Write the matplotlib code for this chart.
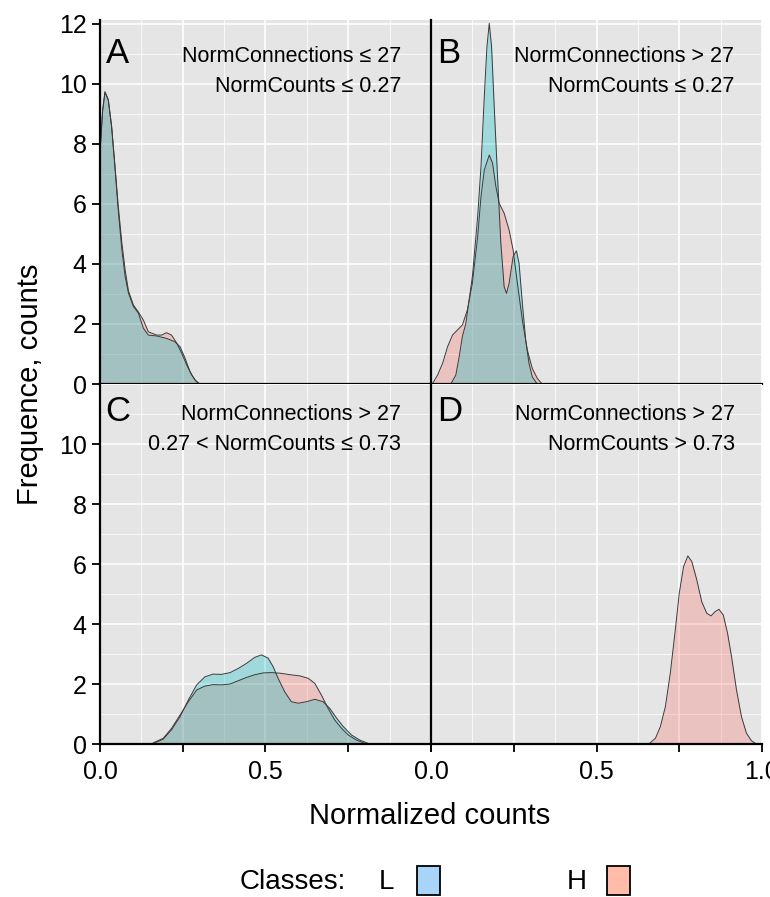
import matplotlib
matplotlib.use("Agg")
import matplotlib.pyplot as plt
from matplotlib.patches import Rectangle

# ---------------- data ----------------
# Panel A
a_L_x = [0.000, 0.008, 0.015, 0.025, 0.035, 0.045, 0.055, 0.066, 0.076, 0.086, 0.101, 0.116,
         0.131, 0.146, 0.171, 0.201, 0.226, 0.242, 0.257, 0.272, 0.287, 0.302]
a_L_y = [7.74, 9.13, 9.74, 9.47, 8.58, 7.24, 5.80, 4.47, 3.58, 3.03, 2.58, 2.36,
         1.86, 1.63, 1.60, 1.52, 1.41, 1.24, 0.86, 0.41, 0.13, 0.00]
a_H_x = [0.000, 0.008, 0.015, 0.025, 0.035, 0.045, 0.055, 0.066, 0.076, 0.086, 0.101, 0.116,
         0.131, 0.146, 0.171, 0.186, 0.201, 0.216, 0.232, 0.247, 0.262, 0.277, 0.292, 0.302]
a_H_y = [7.70, 9.10, 9.72, 9.47, 8.60, 7.30, 5.95, 4.70, 3.80, 3.10, 2.63, 2.40,
         2.13, 1.74, 1.63, 1.63, 1.71, 1.63, 1.36, 1.02, 0.63, 0.30, 0.07, 0.00]

# Panel B
b_L_x = [0.060, 0.075, 0.085, 0.095, 0.105, 0.125, 0.141, 0.151, 0.161, 0.169, 0.176, 0.183,
         0.191, 0.201, 0.211, 0.221, 0.228, 0.236, 0.248, 0.258, 0.266, 0.276, 0.286, 0.296,
         0.306, 0.321]
b_L_y = [0.00, 0.30, 0.90, 1.60, 2.00, 3.58, 5.58, 7.24, 9.58, 11.24, 12.02, 11.24,
         9.24, 6.91, 4.69, 3.24, 3.02, 3.36, 4.24, 4.44, 4.02, 2.69, 1.47, 0.69,
         0.24, 0.00]
b_H_x = [0.005, 0.020, 0.035, 0.050, 0.065, 0.080, 0.095, 0.110, 0.125, 0.141, 0.151, 0.161,
         0.176, 0.186, 0.196, 0.206, 0.221, 0.236, 0.248, 0.261, 0.276, 0.291, 0.306, 0.321,
         0.336]
b_H_y = [0.02, 0.30, 0.69, 1.24, 1.63, 1.80, 1.97, 2.47, 3.36, 4.91, 6.24, 7.13,
         7.63, 7.36, 6.58, 6.02, 5.69, 5.13, 4.47, 3.36, 2.13, 1.13, 0.52, 0.19,
         0.00]

# Panel C
c_L_x = [0.166, 0.191, 0.216, 0.242, 0.267, 0.292, 0.317, 0.342, 0.367, 0.393, 0.418, 0.443,
         0.468, 0.488, 0.508, 0.523, 0.538, 0.558, 0.578, 0.599, 0.624, 0.649, 0.674, 0.694,
         0.715, 0.735, 0.760, 0.785, 0.815]
c_L_y = [0.04, 0.16, 0.47, 0.91, 1.47, 1.97, 2.24, 2.33, 2.32, 2.38, 2.52, 2.69,
         2.89, 2.97, 2.86, 2.58, 2.19, 1.74, 1.41, 1.36, 1.41, 1.49, 1.41, 1.19,
         0.86, 0.58, 0.30, 0.13, 0.00]
c_H_x = [0.161, 0.191, 0.216, 0.242, 0.267, 0.292, 0.317, 0.342, 0.367, 0.393, 0.418, 0.443,
         0.468, 0.493, 0.518, 0.544, 0.574, 0.604, 0.629, 0.649, 0.669, 0.689, 0.709, 0.730,
         0.750, 0.775, 0.805]
c_H_y = [0.04, 0.19, 0.52, 0.97, 1.41, 1.80, 1.93, 1.98, 1.97, 2.00, 2.11, 2.22,
         2.31, 2.37, 2.38, 2.36, 2.31, 2.27, 2.19, 2.02, 1.63, 1.19, 0.80, 0.52,
         0.30, 0.13, 0.00]

# Panel D (only class H)
d_H_x = [0.658, 0.678, 0.693, 0.708, 0.723, 0.738, 0.750, 0.763, 0.776, 0.788, 0.803, 0.818,
         0.833, 0.846, 0.858, 0.870, 0.883, 0.896, 0.908, 0.923, 0.938, 0.953, 0.968, 0.983]
d_H_y = [0.00, 0.19, 0.58, 1.24, 2.36, 3.80, 5.02, 5.91, 6.27, 6.08, 5.47, 4.74,
         4.36, 4.27, 4.41, 4.49, 4.30, 3.69, 2.91, 1.80, 0.91, 0.36, 0.11, 0.00]

panel_letters = ["A", "B", "C", "D"]
panel_line1 = ["NormConnections \u2264 27", "NormConnections > 27",
               "NormConnections > 27", "NormConnections > 27"]
panel_line2 = ["NormCounts \u2264 0.27", "NormCounts \u2264 0.27",
               "0.27 < NormCounts \u2264 0.73", "NormCounts > 0.73"]
x_major = [0.0, 0.25, 0.5, 0.75, 1.0]
x_minor = [0.125, 0.375, 0.625, 0.875]
y_major_top = [0, 2, 4, 6, 8, 10, 12]
y_major_bottom = [0, 2, 4, 6, 8, 10]
y_minor = [1, 3, 5, 7, 9, 11]
legend_classes = ["L", "H"]

# ---------------- style ----------------
W, H = 770, 897
BG = "#E5E5E5"
COL_L = "#00BFC4"
COL_H = "#F8766D"
LEG_L = "#A9D4FA"
LEG_H = "#FFBCA8"
EDGE = "#3A3A3A"
SANS = ["Liberation Sans", "Arial", "DejaVu Sans"]
NARROW = ["Liberation Sans Narrow", "Liberation Sans", "DejaVu Sans"]

fig = plt.figure(figsize=(W / 100, H / 100), dpi=100)


def fx(px):
    return px / W


def fy(py):
    return 1 - py / H


left_x0, right_x0, pw = 100, 431, 331
axA = fig.add_axes([fx(left_x0), fy(384), pw / W, (384 - 20) / H])
axB = fig.add_axes([fx(right_x0), fy(384), pw / W, (384 - 20) / H])
axC = fig.add_axes([fx(left_x0), fy(744), pw / W, 360 / H])
axD = fig.add_axes([fx(right_x0), fy(744), pw / W, 360 / H])
axes = [axA, axB, axC, axD]

curves = [
    [(a_H_x, a_H_y, COL_H), (a_L_x, a_L_y, COL_L)],
    [(b_H_x, b_H_y, COL_H), (b_L_x, b_L_y, COL_L)],
    [(c_H_x, c_H_y, COL_H), (c_L_x, c_L_y, COL_L)],
    [(d_H_x, d_H_y, COL_H)],
]

for i, ax in enumerate(axes):
    ax.set_facecolor(BG)
    ax.set_xlim(0, 1)
    ax.set_ylim(0, 12.13 if i < 2 else 12.0)
    ax.set_xticks(x_major)
    ax.set_xticks(x_minor, minor=True)
    ax.set_yticks(y_major_top if i < 2 else y_major_bottom)
    ax.set_yticks(y_minor, minor=True)
    ax.grid(which="major", color="white", linewidth=1.2)
    ax.grid(which="minor", color="white", linewidth=0.55)
    if i >= 2:
        ax.axhline(12, color="white", linewidth=1.2, zorder=0.5)
    ax.set_axisbelow(True)
    for s in ["top", "right"]:
        ax.spines[s].set_visible(False)
    for s in ["left", "bottom"]:
        ax.spines[s].set_color("black")
        ax.spines[s].set_linewidth(1.6)
        ax.spines[s].set_zorder(5)
    ax.tick_params(which="minor", length=0)
    ax.tick_params(which="major", length=5.5, width=1.3, color="black",
                   labelsize=18, labelcolor="black")
    ax.tick_params(axis="x", pad=6)
    ax.tick_params(axis="y", pad=4)

    for xs, ys, col in curves[i]:
        ax.fill_between(xs, ys, 0, color=col, alpha=0.3, linewidth=0, zorder=2)
        ax.plot(xs, ys, color=EDGE, linewidth=0.7, zorder=3)

    if i < 2:
        ax.tick_params(axis="x", length=0, labelbottom=False)
    else:
        if i == 2:
            ax.set_xticklabels(["0.0", "", "0.5", "", ""])
        else:
            ax.set_xticklabels(["0.0", "", "0.5", "", "1.0"])
    if i in (1, 3):
        ax.tick_params(axis="y", length=0, labelleft=False)
    for lab in ax.get_xticklabels() + ax.get_yticklabels():
        lab.set_fontfamily(SANS)

# panel letters and annotations (pixel positions)
letter_pos = [(106, 63), (437, 63), (105, 421), (437, 421)]
ann_pos = [(401, 62, 92), (734, 62, 92), (401, 420, 450), (735, 420, 450)]
for i in range(4):
    lx, ly = letter_pos[i]
    fig.text(fx(lx), fy(ly), panel_letters[i], fontsize=25, family=SANS,
             ha="left", va="baseline")
    ax_, y1, y2 = ann_pos[i]
    fig.text(fx(ax_), fy(y1), panel_line1[i], fontsize=15.5, family=NARROW,
             ha="right", va="baseline")
    fig.text(fx(ax_), fy(y2), panel_line2[i], fontsize=15.5, family=NARROW,
             ha="right", va="baseline")

# axis titles
fig.text(fx(30), fy(384), "Frequence, counts", rotation=90, fontsize=21,
         family=SANS, ha="center", va="center")
fig.text(fx(430), fy(816), "Normalized counts", fontsize=21, family=SANS,
         ha="center", va="center")

# legend
fig.text(fx(240), fy(882), "Classes:", fontsize=20, family=SANS, ha="left", va="center")
fig.text(fx(379), fy(882), legend_classes[0], fontsize=20, family=SANS, ha="left", va="center")
fig.text(fx(567), fy(882), legend_classes[1], fontsize=20, family=SANS, ha="left", va="center")
for x0, col in [(417, LEG_L), (607, LEG_H)]:
    fig.patches.append(Rectangle((fx(x0), fy(895)), 23 / W, 29 / H,
                                 transform=fig.transFigure, facecolor=col,
                                 edgecolor="black", linewidth=1.3))

fig.savefig("out.png", dpi=100)
